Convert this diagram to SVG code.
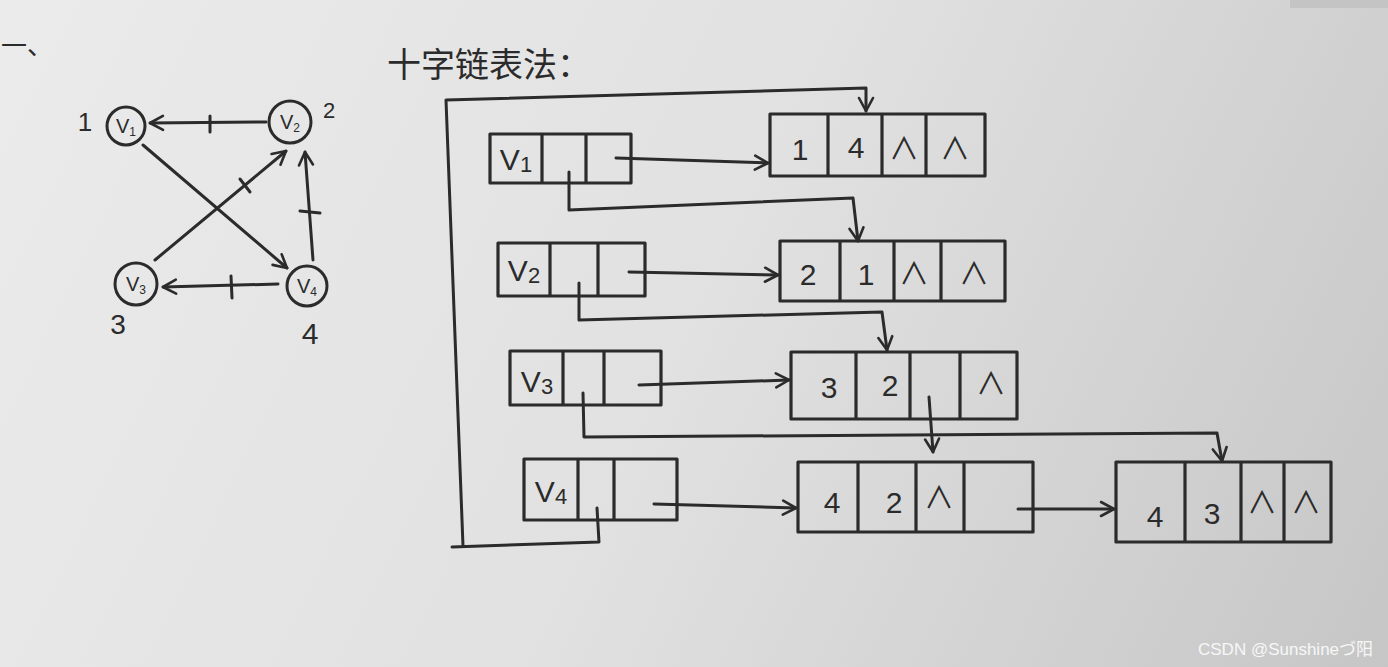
<svg xmlns="http://www.w3.org/2000/svg" width="1388" height="667" viewBox="0 0 1388 667">
<defs>
<linearGradient id="paper" x1="0" y1="0" x2="1388" y2="667" gradientUnits="userSpaceOnUse">
<stop offset="0" stop-color="#ebebeb"/>
<stop offset="0.5" stop-color="#e1e1e1"/>
<stop offset="1" stop-color="#c6c6c6"/>
</linearGradient>
<marker id="arr" markerWidth="20" markerHeight="20" refX="0" refY="0" viewBox="-16 -10 20 20" orient="auto" markerUnits="userSpaceOnUse">
<path d="M -13 -7 L 0 0 L -13 7" fill="none" stroke="#2b2b2b" stroke-width="2.6" stroke-linecap="round" stroke-linejoin="round"/>
</marker>
<style>
.ink{fill:none;stroke:#2b2b2b;stroke-width:3;stroke-linecap:round;stroke-linejoin:round}
.box{fill:none;stroke:#2b2b2b;stroke-width:3.2;stroke-linejoin:round}
.t{font-family:"Liberation Sans","Noto Sans CJK SC",sans-serif;fill:#2b2b2b;text-anchor:middle}
.big{font-size:30px}
.sm{font-size:22px}
.cjk{font-family:"Noto Sans CJK SC","Liberation Sans",sans-serif;fill:#2b2b2b}
</style>
</defs>
<rect x="0" y="0" width="1388" height="667" fill="url(#paper)"/>
<rect x="1290" y="0" width="98" height="8" fill="#c4c4c4"/>

<!-- heading marks -->
<text x="1" y="55" class="cjk" font-size="26">一、</text>
<text x="387" y="77" class="cjk" font-size="34">十字链表法：</text>

<!-- left graph -->
<g id="graph-edges" class="ink">
<path d="M266 122 L150 123" marker-end="url(#arr)"/>
<path d="M210 116 L210 132"/>
<path d="M143 145 L287 268" marker-end="url(#arr)"/>
<path d="M155 260 L286 151" marker-end="url(#arr)"/>
<path d="M240 179 L250 192"/>
<path d="M313 260 L305 152" marker-end="url(#arr)"/>
<path d="M300 211 L320 213"/>
<path d="M278 284 L163 287" marker-end="url(#arr)"/>
<path d="M231 276 L232 298"/>
</g>
<g id="gv1"><circle cx="126" cy="126" r="19" class="ink"/><text x="126" y="133" class="t" font-size="20">V<tspan font-size="12" dy="3">1</tspan></text><text x="85" y="131" class="t" font-size="26">1</text></g>
<g id="gv2"><circle cx="290" cy="122" r="21" class="ink"/><text x="290" y="129" class="t" font-size="20">V<tspan font-size="12" dy="3">2</tspan></text><text x="329" y="118" class="t" font-size="22">2</text></g>
<g id="gv3"><circle cx="136" cy="284" r="21" class="ink"/><text x="136" y="291" class="t" font-size="20">V<tspan font-size="12" dy="3">3</tspan></text><text x="118" y="334" class="t" font-size="28">3</text></g>
<g id="gv4"><circle cx="307" cy="286" r="20" class="ink"/><text x="307" y="293" class="t" font-size="20">V<tspan font-size="12" dy="3">4</tspan></text><text x="310" y="344" class="t" font-size="30">4</text></g>

<!-- orthogonal list: vertex nodes -->
<g id="hv1"><rect x="490" y="134" width="141" height="49" class="box"/><path d="M542 134 V183 M586 134 V183" class="box"/><text x="516" y="170" class="t big">V<tspan class="sm" dy="2">1</tspan></text></g>
<g id="hv2"><rect x="498" y="243" width="147" height="53" class="box"/><path d="M550 243 V296 M598 243 V296" class="box"/><text x="524" y="281" class="t big">V<tspan class="sm" dy="2">2</tspan></text></g>
<g id="hv3"><rect x="510" y="351" width="151" height="54" class="box"/><path d="M563 351 V405 M604 351 V405" class="box"/><text x="537" y="392" class="t big">V<tspan class="sm" dy="2">3</tspan></text></g>
<g id="hv4"><rect x="524" y="459" width="153" height="61" class="box"/><path d="M578 459 V520 M614 459 V520" class="box"/><text x="551" y="502" class="t big">V<tspan class="sm" dy="2">4</tspan></text></g>

<!-- arc nodes -->
<g id="arc14"><rect x="770" y="114" width="215" height="62" class="box"/><path d="M828 114 V176 M882 114 V176 M926 114 V176" class="box"/>
<text x="800" y="160" class="t big">1</text><text x="856" y="158" class="t big">4</text><text x="904" y="159" class="t big">∧</text><text x="955" y="159" class="t big">∧</text></g>
<g id="arc21"><rect x="780" y="241" width="225" height="60" class="box"/><path d="M840 241 V301 M894 241 V301 M941 241 V301" class="box"/>
<text x="808" y="285" class="t big">2</text><text x="866" y="285" class="t big">1</text><text x="914" y="284" class="t big">∧</text><text x="974" y="284" class="t big">∧</text></g>
<g id="arc32"><rect x="791" y="352" width="226" height="67" class="box"/><path d="M856 352 V419 M910 352 V419 M960 352 V419" class="box"/>
<text x="829" y="398" class="t big">3</text><text x="890" y="396" class="t big">2</text><text x="991" y="394" class="t big">∧</text></g>
<g id="arc42"><rect x="798" y="462" width="235" height="70" class="box"/><path d="M858 462 V532 M916 462 V532 M964 462 V532" class="box"/>
<text x="832" y="513" class="t big">4</text><text x="894" y="513" class="t big">2</text><text x="939" y="508" class="t big">∧</text></g>
<g id="arc43"><rect x="1116" y="462" width="215" height="80" class="box"/><path d="M1185 462 V542 M1241 462 V542 M1284 462 V542" class="box"/>
<text x="1155" y="527" class="t big">4</text><text x="1212" y="524" class="t big">3</text><text x="1262" y="513" class="t big">∧</text><text x="1306" y="513" class="t big">∧</text></g>

<!-- connectors -->
<g id="connectors" class="ink">
<path d="M597 508 L599 542 L452 547"/>
<path d="M463 546 L446 100 L866 88 L866 111" marker-end="url(#arr)"/>
<path d="M616 158 L768 163" marker-end="url(#arr)"/>
<path d="M569 172 L569 210 L853 198 L858 241" marker-end="url(#arr)"/>
<path d="M629 272 L778 275" marker-end="url(#arr)"/>
<path d="M579 283 L579 320 L882 312 L887 350" marker-end="url(#arr)"/>
<path d="M639 385 L789 380" marker-end="url(#arr)"/>
<path d="M583 393 L584 437 L1217 433 L1222 461" marker-end="url(#arr)"/>
<path d="M929 397 L933 452" marker-end="url(#arr)"/>
<path d="M654 504 L796 508" marker-end="url(#arr)"/>
<path d="M1018 509 L1114 509" marker-end="url(#arr)"/>
</g>

<text x="1198" y="655" font-family="Liberation Sans,Noto Sans CJK SC,sans-serif" font-size="17" fill="#f7f7f7">CSDN @Sunshineづ阳</text>
</svg>
